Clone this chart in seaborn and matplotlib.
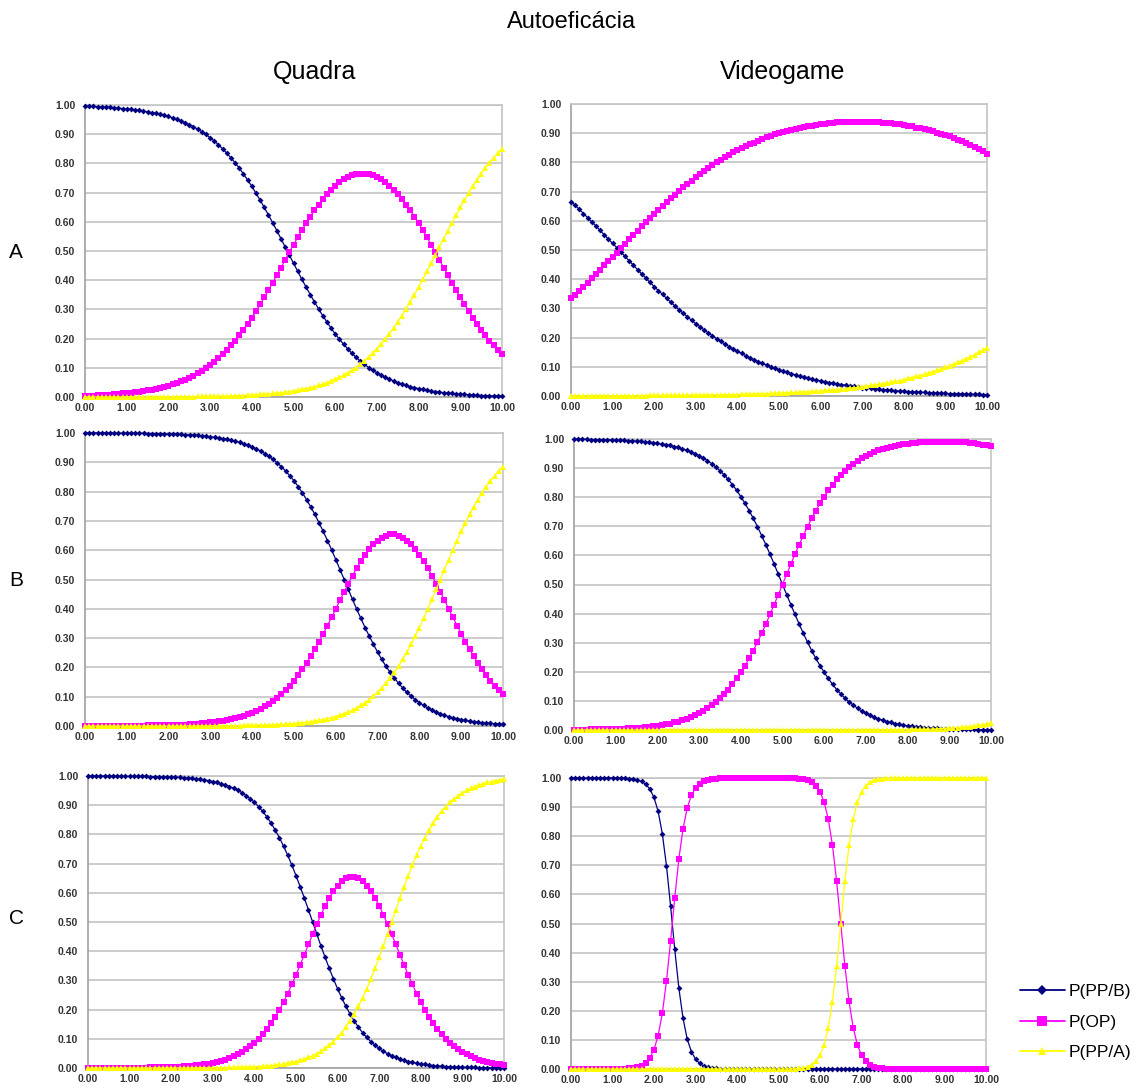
import matplotlib
matplotlib.use("Agg")
import matplotlib.pyplot as plt
import seaborn as sns
from matplotlib.lines import Line2D

sns.set_style("white")
plt.rcParams["font.family"] = ["Liberation Sans", "DejaVu Sans"]
plt.rcParams["text.color"] = "black"

# ---------------- data ----------------
x = [0.0, 0.1, 0.2, 0.3, 0.4, 0.5, 0.6, 0.7, 0.8, 0.9,
     1.0, 1.1, 1.2, 1.3, 1.4, 1.5, 1.6, 1.7, 1.8, 1.9,
     2.0, 2.1, 2.2, 2.3, 2.4, 2.5, 2.6, 2.7, 2.8, 2.9,
     3.0, 3.1, 3.2, 3.3, 3.4, 3.5, 3.6, 3.7, 3.8, 3.9,
     4.0, 4.1, 4.2, 4.3, 4.4, 4.5, 4.6, 4.7, 4.8, 4.9,
     5.0, 5.1, 5.2, 5.3, 5.4, 5.5, 5.6, 5.7, 5.8, 5.9,
     6.0, 6.1, 6.2, 6.3, 6.4, 6.5, 6.6, 6.7, 6.8, 6.9,
     7.0, 7.1, 7.2, 7.3, 7.4, 7.5, 7.6, 7.7, 7.8, 7.9,
     8.0, 8.1, 8.2, 8.3, 8.4, 8.5, 8.6, 8.7, 8.8, 8.9,
     9.0, 9.1, 9.2, 9.3, 9.4, 9.5, 9.6, 9.7, 9.8, 9.9,
     10.0]

series_names = ["P(PP/B)", "P(OP)", "P(PP/A)"]
row_labels = ["A", "B", "C"]
col_labels = ["Quadra", "Videogame"]
title_text = "Autoeficácia"
x_ticks = [0, 1, 2, 3, 4, 5, 6, 7, 8, 9, 10]
y_ticks = [0.0, 0.1, 0.2, 0.3, 0.4, 0.5, 0.6, 0.7, 0.8, 0.9, 1.0]

# Row A - Quadra
A_quadra_PB = [.996, .995, .995, .994, .993, .992, .992, .991, .989, .988,
               .987, .985, .984, .982, .979, .977, .974, .972, .968, .965,
               .961, .956, .951, .946, .940, .933, .926, .917, .909, .899,
               .888, .877, .864, .850, .835, .819, .802, .784, .764, .743,
               .722, .698, .674, .649, .623, .597, .570, .542, .514, .486,
               .458, .431, .403, .377, .351, .326, .302, .279, .257, .236,
               .216, .198, .181, .165, .150, .136, .123, .112, .101, .091,
               .083, .075, .067, .061, .055, .049, .044, .040, .035, .032,
               .029, .026, .023, .021, .018, .017, .015, .013, .012, .011,
               .010, .009, .008, .007, .006, .005, .005, .004, .004, .004,
               .003]
A_quadra_OP = [.004, .005, .005, .006, .007, .008, .008, .009, .010, .012,
               .013, .015, .016, .018, .020, .023, .025, .028, .031, .035,
               .039, .043, .048, .054, .059, .066, .073, .081, .090, .099,
               .110, .121, .133, .147, .161, .177, .193, .211, .230, .251,
               .272, .294, .317, .341, .366, .391, .417, .443, .470, .496,
               .521, .547, .571, .595, .618, .639, .659, .678, .695, .710,
               .723, .735, .745, .753, .759, .763, .765, .765, .763, .759,
               .753, .745, .735, .723, .710, .695, .678, .659, .639, .618,
               .595, .571, .547, .521, .496, .470, .443, .417, .391, .366,
               .341, .317, .294, .272, .251, .230, .211, .193, .177, .161,
               .147]
A_quadra_PA = [.000, .000, .000, .000, .000, .000, .000, .000, .000, .000,
               .000, .000, .000, .000, .000, .000, .000, .001, .001, .001,
               .001, .001, .001, .001, .001, .001, .001, .002, .002, .002,
               .002, .002, .003, .003, .003, .004, .004, .005, .005, .006,
               .007, .008, .009, .010, .011, .012, .013, .015, .017, .018,
               .021, .023, .026, .029, .032, .035, .040, .044, .049, .055,
               .061, .067, .075, .083, .091, .101, .112, .123, .136, .150,
               .165, .181, .198, .216, .236, .257, .279, .302, .326, .351,
               .377, .403, .431, .458, .486, .514, .542, .570, .597, .623,
               .649, .674, .698, .722, .743, .764, .784, .802, .819, .835,
               .850]

# Row A - Videogame
A_video_PB = [.666, .653, .639, .625, .611, .596, .582, .567, .552, .537,
              .523, .508, .493, .478, .463, .448, .433, .418, .404, .389,
              .375, .361, .348, .334, .321, .308, .295, .283, .271, .259,
              .248, .237, .226, .216, .206, .196, .187, .178, .169, .161,
              .153, .146, .138, .131, .125, .118, .112, .106, .101, .095,
              .090, .086, .081, .077, .072, .069, .065, .061, .058, .055,
              .052, .049, .046, .044, .041, .039, .037, .035, .033, .031,
              .029, .027, .026, .024, .023, .022, .020, .019, .018, .017,
              .016, .015, .014, .014, .013, .012, .011, .011, .010, .010,
              .009, .008, .008, .008, .007, .007, .006, .006, .006, .005,
              .005]
A_video_OP = [.334, .347, .360, .374, .388, .403, .417, .432, .447, .462,
              .476, .491, .506, .521, .536, .551, .566, .581, .595, .609,
              .623, .637, .650, .664, .677, .690, .703, .715, .726, .738,
              .749, .760, .771, .780, .790, .800, .809, .817, .826, .834,
              .842, .848, .856, .863, .868, .875, .880, .886, .890, .896,
              .900, .904, .908, .911, .916, .918, .921, .924, .926, .928,
              .930, .932, .934, .935, .937, .937, .938, .938, .939, .939,
              .939, .939, .938, .938, .937, .936, .935, .934, .932, .930,
              .928, .925, .923, .919, .917, .913, .910, .906, .902, .897,
              .893, .889, .883, .877, .872, .865, .859, .852, .845, .838,
              .830]
A_video_PA = [.000, .000, .001, .001, .001, .001, .001, .001, .001, .001,
              .001, .001, .001, .001, .001, .001, .001, .001, .001, .002,
              .002, .002, .002, .002, .002, .002, .002, .002, .003, .003,
              .003, .003, .003, .004, .004, .004, .004, .005, .005, .005,
              .005, .006, .006, .006, .007, .007, .008, .008, .009, .009,
              .010, .010, .011, .012, .012, .013, .014, .015, .016, .017,
              .018, .019, .020, .021, .022, .024, .025, .027, .028, .030,
              .032, .034, .036, .038, .040, .042, .045, .047, .050, .053,
              .056, .060, .063, .067, .070, .075, .079, .083, .088, .093,
              .098, .103, .109, .115, .121, .128, .135, .142, .149, .157,
              .165]

# Row B - Quadra
B_quadra_PB = [1.000, 1.000, 1.000, 1.000, 1.000, 1.000, 1.000, .999, .999, .999,
               .999, .999, .999, .999, .999, .998, .998, .998, .997, .997,
               .997, .996, .996, .995, .994, .994, .993, .992, .990, .989,
               .987, .985, .983, .981, .978, .975, .972, .968, .963, .958,
               .952, .946, .938, .930, .921, .910, .898, .885, .870, .854,
               .837, .817, .796, .773, .748, .722, .693, .664, .633, .601,
               .568, .534, .500, .466, .432, .399, .367, .336, .307, .279,
               .252, .227, .204, .183, .164, .146, .130, .115, .102, .090,
               .080, .070, .062, .054, .048, .042, .037, .032, .028, .025,
               .022, .019, .017, .015, .013, .011, .010, .009, .008, .007,
               .006]
B_quadra_OP = [.000, .000, .000, .000, .000, .000, .000, .001, .001, .001,
               .001, .001, .001, .001, .001, .002, .002, .002, .003, .003,
               .003, .004, .004, .005, .005, .006, .007, .008, .009, .011,
               .012, .014, .016, .018, .021, .024, .027, .031, .035, .040,
               .046, .052, .059, .067, .076, .086, .097, .109, .123, .138,
               .155, .173, .193, .215, .238, .262, .288, .315, .343, .371,
               .400, .429, .458, .486, .513, .539, .563, .584, .603, .620,
               .633, .643, .650, .654, .654, .650, .643, .633, .620, .603,
               .584, .563, .539, .513, .486, .458, .429, .400, .371, .343,
               .315, .288, .262, .238, .215, .193, .173, .155, .138, .123,
               .109]
B_quadra_PA = [.000, .000, .000, .000, .000, .000, .000, .000, .000, .000,
               .000, .000, .000, .000, .000, .000, .000, .000, .000, .000,
               .000, .000, .000, .000, .000, .000, .000, .000, .000, .000,
               .001, .001, .001, .001, .001, .001, .001, .001, .002, .002,
               .002, .003, .003, .003, .004, .004, .005, .006, .006, .007,
               .008, .010, .011, .013, .015, .017, .019, .022, .025, .028,
               .032, .037, .042, .048, .054, .062, .070, .080, .090, .102,
               .115, .130, .146, .164, .183, .204, .227, .252, .279, .307,
               .336, .367, .399, .432, .466, .500, .534, .568, .601, .633,
               .664, .693, .722, .748, .773, .796, .817, .837, .854, .870,
               .885]

# Row B - Videogame
B_video_PB = [.999, .999, .999, .999, .998, .998, .998, .998, .997, .997,
              .996, .996, .995, .994, .994, .993, .992, .990, .989, .987,
              .985, .983, .981, .978, .974, .971, .966, .962, .956, .950,
              .943, .935, .926, .915, .904, .891, .877, .861, .843, .824,
              .802, .779, .754, .727, .699, .668, .637, .604, .570, .535,
              .500, .465, .431, .397, .364, .332, .302, .273, .246, .221,
              .198, .177, .157, .139, .124, .109, .096, .085, .075, .065,
              .057, .050, .044, .038, .034, .029, .026, .022, .020, .017,
              .015, .013, .011, .010, .008, .007, .006, .006, .005, .004,
              .004, .003, .003, .002, .002, .002, .002, .001, .001, .001,
              .001]
B_video_OP = [.001, .001, .001, .001, .002, .002, .002, .002, .003, .003,
              .004, .004, .005, .006, .006, .007, .008, .010, .011, .013,
              .015, .017, .020, .022, .026, .029, .034, .038, .044, .050,
              .057, .065, .075, .085, .096, .109, .124, .139, .157, .177,
              .198, .221, .246, .273, .302, .332, .364, .397, .431, .465,
              .500, .535, .570, .604, .637, .668, .699, .727, .754, .779,
              .802, .824, .843, .861, .877, .891, .904, .915, .926, .935,
              .942, .949, .956, .961, .966, .970, .974, .977, .979, .982,
              .984, .985, .987, .988, .989, .990, .990, .991, .991, .991,
              .990, .990, .989, .989, .988, .986, .985, .983, .981, .978,
              .975]
B_video_PA = [.000, .000, .000, .000, .000, .000, .000, .000, .000, .000,
              .000, .000, .000, .000, .000, .000, .000, .000, .000, .000,
              .000, .000, .000, .000, .000, .000, .000, .000, .000, .000,
              .000, .000, .000, .000, .000, .000, .000, .000, .000, .000,
              .000, .000, .000, .000, .000, .000, .000, .000, .000, .000,
              .000, .000, .000, .000, .000, .000, .000, .000, .000, .000,
              .000, .000, .000, .000, .000, .000, .000, .000, .000, .000,
              .000, .000, .001, .001, .001, .001, .001, .001, .001, .001,
              .001, .002, .002, .002, .003, .003, .003, .004, .005, .005,
              .006, .007, .008, .009, .010, .012, .014, .016, .018, .021,
              .024]

# Row C - Quadra
C_quadra_PB = [1.000, 1.000, 1.000, 1.000, 1.000, 1.000, 1.000, 1.000, .999, .999,
               .999, .999, .999, .999, .999, .998, .998, .998, .997, .997,
               .996, .996, .995, .994, .993, .992, .990, .989, .987, .984,
               .981, .978, .974, .970, .964, .958, .951, .943, .933, .922,
               .910, .895, .879, .860, .839, .815, .789, .760, .729, .695,
               .659, .621, .582, .541, .500, .459, .418, .379, .341, .305,
               .271, .240, .211, .185, .161, .140, .121, .105, .090, .078,
               .067, .057, .049, .042, .036, .030, .026, .022, .019, .016,
               .014, .012, .010, .008, .007, .006, .005, .004, .004, .003,
               .003, .002, .002, .002, .001, .001, .001, .001, .001, .001,
               .000]
C_quadra_OP = [.000, .000, .000, .000, .000, .000, .000, .000, .001, .001,
               .001, .001, .001, .001, .001, .002, .002, .002, .003, .003,
               .004, .004, .005, .006, .007, .008, .009, .011, .013, .015,
               .018, .021, .025, .029, .034, .040, .047, .055, .064, .074,
               .086, .100, .115, .133, .153, .175, .199, .226, .255, .286,
               .319, .353, .388, .423, .458, .492, .525, .555, .582, .605,
               .624, .639, .649, .654, .654, .649, .639, .624, .605, .582,
               .555, .525, .492, .458, .423, .388, .353, .319, .286, .255,
               .226, .199, .175, .153, .133, .115, .100, .086, .074, .064,
               .055, .047, .040, .034, .029, .025, .021, .018, .015, .013,
               .011]
C_quadra_PA = [.000, .000, .000, .000, .000, .000, .000, .000, .000, .000,
               .000, .000, .000, .000, .000, .000, .000, .000, .000, .000,
               .000, .000, .000, .000, .000, .000, .000, .001, .001, .001,
               .001, .001, .001, .001, .002, .002, .002, .003, .003, .004,
               .004, .005, .006, .007, .008, .010, .012, .014, .016, .019,
               .022, .026, .030, .036, .042, .049, .057, .067, .078, .090,
               .105, .121, .140, .161, .185, .211, .240, .271, .305, .341,
               .379, .418, .459, .500, .541, .582, .621, .659, .695, .729,
               .760, .789, .815, .839, .860, .879, .895, .910, .922, .933,
               .943, .951, .958, .964, .970, .974, .978, .981, .984, .987,
               .989]

# Row C - Videogame
C_video_PB = [1.000, 1.000, 1.000, 1.000, 1.000, 1.000, 1.000, 1.000, 1.000, 1.000,
              1.000, 1.000, .999, .999, .998, .996, .994, .988, .979, .962,
              .933, .885, .809, .699, .560, .411, .277, .174, .103, .060,
              .034, .019, .010, .006, .003, .002, .001, .001, .000, .000,
              .000, .000, .000, .000, .000, .000, .000, .000, .000, .000,
              .000, .000, .000, .000, .000, .000, .000, .000, .000, .000,
              .000, .000, .000, .000, .000, .000, .000, .000, .000, .000,
              .000, .000, .000, .000, .000, .000, .000, .000, .000, .000,
              .000, .000, .000, .000, .000, .000, .000, .000, .000, .000,
              .000, .000, .000, .000, .000, .000, .000, .000, .000, .000,
              .000]
C_video_OP = [.000, .000, .000, .000, .000, .000, .000, .000, .000, .000,
              .000, .000, .001, .001, .002, .004, .006, .012, .021, .038,
              .067, .115, .191, .301, .440, .589, .723, .826, .897, .940,
              .966, .981, .990, .994, .997, .998, .999, .999, 1.000, 1.000,
              1.000, 1.000, 1.000, 1.000, 1.000, 1.000, 1.000, 1.000, 1.000, 1.000,
              1.000, 1.000, 1.000, .999, .999, .998, .996, .992, .985, .973,
              .953, .917, .858, .769, .646, .500, .354, .232, .142, .083,
              .047, .027, .015, .008, .004, .002, .001, .001, .000, .000,
              .000, .000, .000, .000, .000, .000, .000, .000, .000, .000,
              .000, .000, .000, .000, .000, .000, .000, .000, .000, .000,
              .000]
C_video_PA = [.000, .000, .000, .000, .000, .000, .000, .000, .000, .000,
              .000, .000, .000, .000, .000, .000, .000, .000, .000, .000,
              .000, .000, .000, .000, .000, .000, .000, .000, .000, .000,
              .000, .000, .000, .000, .000, .000, .000, .000, .000, .000,
              .000, .000, .000, .000, .000, .000, .000, .000, .000, .000,
              .000, .000, .000, .001, .001, .002, .004, .008, .015, .027,
              .047, .083, .142, .231, .354, .500, .646, .769, .858, .917,
              .953, .973, .985, .992, .996, .998, .999, .999, 1.000, 1.000,
              1.000, 1.000, 1.000, 1.000, 1.000, 1.000, 1.000, 1.000, 1.000, 1.000,
              1.000, 1.000, 1.000, 1.000, 1.000, 1.000, 1.000, 1.000, 1.000, 1.000,
              1.000]

# ---------------- styling ----------------
W, H = 1145, 1090
styles = [
    dict(color="#000080", marker="D", markersize=3.0, linewidth=0.9),
    dict(color="#FF00FF", marker="s", markersize=4.0, linewidth=0.9),
    dict(color="#FFFF00", marker="^", markersize=3.8, linewidth=0.9),
]
# axes boxes in pixels: left, top, right, bottom
boxes = [
    (85, 105, 502, 397), (571, 104, 987, 396),
    (85, 433, 503, 726), (574, 439, 991, 730),
    (88, 776, 504, 1068), (571, 778, 986, 1069),
]
panels = [
    (A_quadra_PB, A_quadra_OP, A_quadra_PA),
    (A_video_PB, A_video_OP, A_video_PA),
    (B_quadra_PB, B_quadra_OP, B_quadra_PA),
    (B_video_PB, B_video_OP, B_video_PA),
    (C_quadra_PB, C_quadra_OP, C_quadra_PA),
    (C_video_PB, C_video_OP, C_video_PA),
]

fig = plt.figure(figsize=(W / 100, H / 100), dpi=100)
fig.patch.set_facecolor("white")

grid_c = "#c4c4c4"
axis_c = "#a0a0a0"
tick_font = dict(fontsize=7.5, fontweight="bold", color="#333333")

for (l, t, r, b), curves in zip(boxes, panels):
    ax = fig.add_axes([l / W, 1 - b / H, (r - l) / W, (b - t) / H])
    ax.set_facecolor("white")
    for vals, st in zip(curves, styles):
        sns.lineplot(x=x, y=vals, ax=ax, color=st["color"], marker=st["marker"],
                     markersize=st["markersize"], linewidth=st["linewidth"],
                     markeredgewidth=0, markeredgecolor=st["color"],
                     clip_on=False, legend=False, zorder=3)
    ax.set_xlim(0, 10)
    ax.set_ylim(0, 1)
    ax.set_xticks(x_ticks)
    ax.set_xticklabels([f"{v:.2f}" for v in x_ticks], **tick_font)
    ax.set_yticks(y_ticks)
    ax.set_yticklabels([f"{v:.2f}" for v in y_ticks], **tick_font)
    ax.set_xlabel("")
    ax.set_ylabel("")
    ax.yaxis.grid(True, color=grid_c, linewidth=1.2)
    ax.xaxis.grid(False)
    ax.set_axisbelow(True)
    for side in ["top", "right"]:
        ax.spines[side].set_color(grid_c)
        ax.spines[side].set_linewidth(1.2)
    for side in ["left", "bottom"]:
        ax.spines[side].set_color(axis_c)
        ax.spines[side].set_linewidth(1.2)
    ax.tick_params(axis="x", direction="inout", length=4, width=1, color=axis_c, pad=2)
    ax.tick_params(axis="y", direction="out", length=2, width=1, color=axis_c, pad=5)

# titles and labels
fig.text(572 / W, 1 - 22 / H, title_text, ha="center", va="center", fontsize=17, color="black")
fig.text(315 / W, 1 - 72 / H, col_labels[0], ha="center", va="center", fontsize=18, color="black")
fig.text(783 / W, 1 - 72 / H, col_labels[1], ha="center", va="center", fontsize=18, color="black")
for lab, yy in zip(row_labels, [253, 580, 918]):
    fig.text(16 / W, 1 - yy / H, lab, ha="center", va="center", fontsize=15, color="black")

# legend
handles = [Line2D([0], [0], color=st["color"], marker=st["marker"],
                  markersize=st["markersize"] + 2.5, linewidth=1.3,
                  markeredgewidth=0) for st in styles]
leg = fig.legend(handles, series_names, loc="center left",
                 bbox_to_anchor=(1004 / W, 1 - 1022 / H), frameon=False,
                 fontsize=12.5, handlelength=2.6, handletextpad=0.2,
                 labelspacing=0.9)
for txt in leg.get_texts():
    txt.set_color("black")

fig.savefig("out.png", dpi=100, facecolor="white")
